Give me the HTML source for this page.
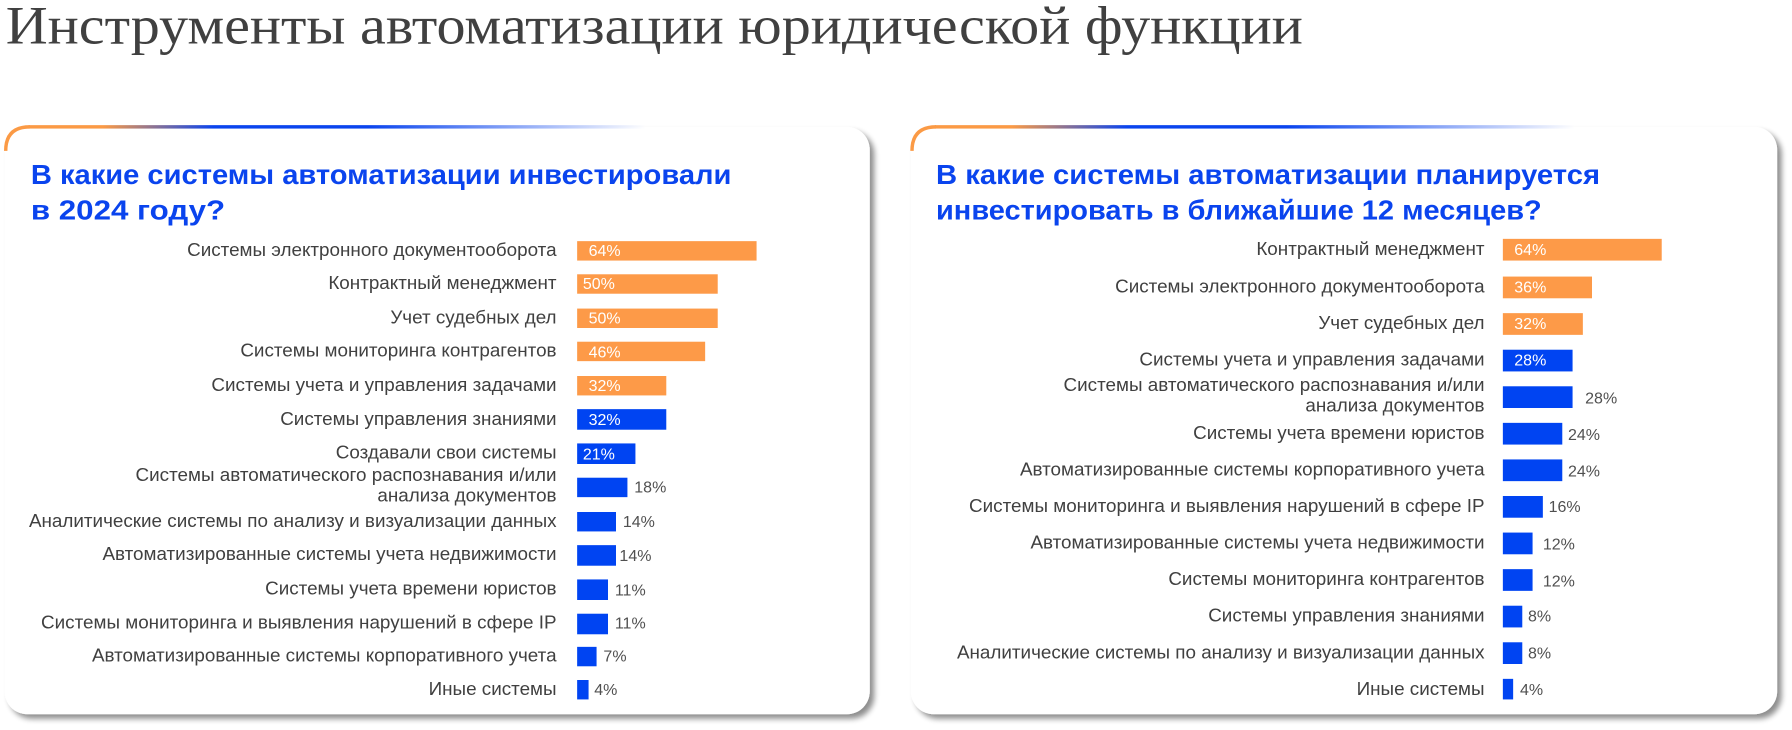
<!DOCTYPE html>
<html><head><meta charset="utf-8"><style>
html,body{margin:0;padding:0;background:#fff;}
svg{display:block;}
.lab{font-family:"Liberation Sans",sans-serif;font-size:16.5px;fill:#404040;text-anchor:end;}
.vin{font-family:"Liberation Sans",sans-serif;font-size:14px;fill:#fff;}
.vout{font-family:"Liberation Sans",sans-serif;font-size:14px;fill:#505050;}
.ct{font-family:"Liberation Sans",sans-serif;font-size:24px;font-weight:bold;fill:#0a44ee;}
</style></head><body>
<svg width="1792" height="730" viewBox="0 0 1568 638.75" xmlns="http://www.w3.org/2000/svg">
<defs>
<filter id="sh" x="-5%" y="-5%" width="115%" height="115%">
<feGaussianBlur in="SourceAlpha" stdDeviation="2.5"/><feOffset dx="4" dy="4"/>
<feComponentTransfer><feFuncA type="linear" slope="0.45"/></feComponentTransfer>
<feMerge><feMergeNode/><feMergeNode in="SourceGraphic"/></feMerge></filter>
<linearGradient id="gv" x1="0" y1="0" x2="0" y2="1"><stop offset="0" stop-color="#fb9a45"/><stop offset="0.12" stop-color="#fb9a45"/><stop offset="0.3" stop-color="#0a44ee"/><stop offset="1" stop-color="#0a44ee"/></linearGradient>
<linearGradient id="gh" x1="0" y1="0" x2="1" y2="0"><stop offset="0" stop-color="#fb9a45"/><stop offset="0.12" stop-color="#fb9a45"/><stop offset="0.3" stop-color="#0a44ee"/><stop offset="0.55" stop-color="#0a44ee"/><stop offset="1" stop-color="#0a44ee" stop-opacity="0"/></linearGradient>
</defs>
<text x="5" y="38" font-family="Liberation Serif,serif" font-size="47" fill="#404040" textLength="1135" lengthAdjust="spacingAndGlyphs">Инструменты автоматизации юридической функции</text>

<rect x="4" y="111" width="757" height="514" rx="20" fill="#fff" filter="url(#sh)"/>
<path d="M5,625 L5,131" stroke="url(#gv)" stroke-width="3" fill="none"/>
<path d="M5,132 Q5,111 26,111" stroke="#fb9a45" stroke-width="3" fill="none"/>
<rect x="25" y="109.5" width="540" height="3" fill="url(#gh)"/>
<text class="ct" x="27" y="161" textLength="613" lengthAdjust="spacingAndGlyphs">В какие системы автоматизации инвестировали</text>
<text class="ct" x="27" y="192" textLength="170" lengthAdjust="spacingAndGlyphs">в 2024 году?</text>

<rect x="797" y="111" width="758" height="514" rx="20" fill="#fff" filter="url(#sh)"/>
<path d="M798,625 L798,131" stroke="url(#gv)" stroke-width="3" fill="none"/>
<path d="M798,132 Q798,111 819,111" stroke="#fb9a45" stroke-width="3" fill="none"/>
<rect x="818" y="109.5" width="560" height="3" fill="url(#gh)"/>
<text class="ct" x="819" y="161" textLength="581" lengthAdjust="spacingAndGlyphs">В какие системы автоматизации планируется</text>
<text class="ct" x="819" y="192" textLength="530" lengthAdjust="spacingAndGlyphs">инвестировать в ближайшие 12 месяцев?</text>

<g>
<rect x="505" y="211" width="157" height="17" fill="#fd9a48"/><text class="lab" x="487" y="224">Системы электронного документооборота</text><text class="vin" x="515" y="224">64%</text>
<rect x="505" y="240" width="123" height="17" fill="#fd9a48"/><text class="lab" x="487" y="253">Контрактный менеджмент</text><text class="vin" x="510" y="253">50%</text>
<rect x="505" y="270" width="123" height="17" fill="#fd9a48"/><text class="lab" x="487" y="283">Учет судебных дел</text><text class="vin" x="515" y="283">50%</text>
<rect x="505" y="299" width="112" height="17" fill="#fd9a48"/><text class="lab" x="487" y="312">Системы мониторинга контрагентов</text><text class="vin" x="515" y="313">46%</text>
<rect x="505" y="329" width="78" height="17" fill="#fd9a48"/><text class="lab" x="487" y="342">Системы учета и управления задачами</text><text class="vin" x="515" y="342">32%</text>
<rect x="505" y="358" width="78" height="18" fill="#0044f2"/><text class="lab" x="487" y="372">Системы управления знаниями</text><text class="vin" x="515" y="372">32%</text>
<rect x="505" y="388" width="51" height="18" fill="#0044f2"/><text class="lab" x="487" y="401">Создавали свои системы</text><text class="vin" x="510" y="402">21%</text>
<rect x="505" y="418" width="44" height="17" fill="#0044f2"/><text class="lab" x="487" y="421">Системы автоматического распознавания и/или</text><text class="lab" x="487" y="439">анализа документов</text><text class="vout" x="555" y="431">18%</text>
<rect x="505" y="448" width="34" height="17" fill="#0044f2"/><text class="lab" x="487" y="461">Аналитические системы по анализу и визуализации данных</text><text class="vout" x="545" y="461">14%</text>
<rect x="505" y="477" width="34" height="18" fill="#0044f2"/><text class="lab" x="487" y="490">Автоматизированные системы учета недвижимости</text><text class="vout" x="542" y="491">14%</text>
<rect x="505" y="507" width="27" height="18" fill="#0044f2"/><text class="lab" x="487" y="520">Системы учета времени юристов</text><text class="vout" x="538" y="521">11%</text>
<rect x="505" y="537" width="27" height="18" fill="#0044f2"/><text class="lab" x="487" y="550">Системы мониторинга и выявления нарушений в сфере IP</text><text class="vout" x="538" y="550">11%</text>
<rect x="505" y="566" width="17" height="17" fill="#0044f2"/><text class="lab" x="487" y="579">Автоматизированные системы корпоративного учета</text><text class="vout" x="528" y="579">7%</text>
<rect x="505" y="595" width="10" height="17" fill="#0044f2"/><text class="lab" x="487" y="608">Иные системы</text><text class="vout" x="520" y="608">4%</text>
</g>

<g>
<rect x="1315" y="209" width="139" height="19" fill="#fd9a48"/><text class="lab" x="1299" y="223">Контрактный менеджмент</text><text class="vin" x="1325" y="223">64%</text>
<rect x="1315" y="242" width="78" height="19" fill="#fd9a48"/><text class="lab" x="1299" y="256">Системы электронного документооборота</text><text class="vin" x="1325" y="256">36%</text>
<rect x="1315" y="274" width="70" height="19" fill="#fd9a48"/><text class="lab" x="1299" y="288">Учет судебных дел</text><text class="vin" x="1325" y="288">32%</text>
<rect x="1315" y="306" width="61" height="19" fill="#0044f2"/><text class="lab" x="1299" y="320">Системы учета и управления задачами</text><text class="vin" x="1325" y="320">28%</text>
<rect x="1315" y="338" width="61" height="19" fill="#0044f2"/><text class="lab" x="1299" y="342">Системы автоматического распознавания и/или</text><text class="lab" x="1299" y="360">анализа документов</text><text class="vout" x="1387" y="353">28%</text>
<rect x="1315" y="370" width="52" height="19" fill="#0044f2"/><text class="lab" x="1299" y="384">Системы учета времени юристов</text><text class="vout" x="1372" y="385">24%</text>
<rect x="1315" y="402" width="52" height="19" fill="#0044f2"/><text class="lab" x="1299" y="416">Автоматизированные системы корпоративного учета</text><text class="vout" x="1372" y="417">24%</text>
<rect x="1315" y="434" width="35" height="19" fill="#0044f2"/><text class="lab" x="1299" y="448">Системы мониторинга и выявления нарушений в сфере IP</text><text class="vout" x="1355" y="448">16%</text>
<rect x="1315" y="466" width="26" height="19" fill="#0044f2"/><text class="lab" x="1299" y="480">Автоматизированные системы учета недвижимости</text><text class="vout" x="1350" y="481">12%</text>
<rect x="1315" y="498" width="26" height="19" fill="#0044f2"/><text class="lab" x="1299" y="512">Системы мониторинга контрагентов</text><text class="vout" x="1350" y="513">12%</text>
<rect x="1315" y="530" width="17" height="19" fill="#0044f2"/><text class="lab" x="1299" y="544">Системы управления знаниями</text><text class="vout" x="1337" y="544">8%</text>
<rect x="1315" y="562" width="17" height="19" fill="#0044f2"/><text class="lab" x="1299" y="576">Аналитические системы по анализу и визуализации данных</text><text class="vout" x="1337" y="576">8%</text>
<rect x="1315" y="594" width="9" height="18" fill="#0044f2"/><text class="lab" x="1299" y="608">Иные системы</text><text class="vout" x="1330" y="608">4%</text>
</g>
</svg>
</body></html>
